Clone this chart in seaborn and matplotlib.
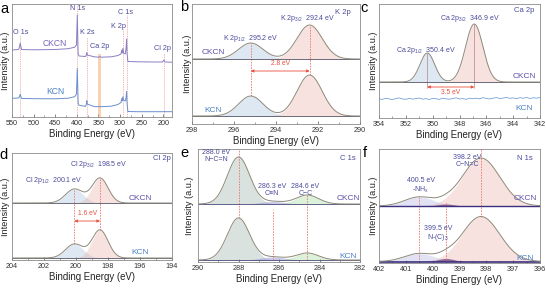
import numpy as np
import pandas as pd
import matplotlib
matplotlib.use("Agg")
import matplotlib.pyplot as plt
from matplotlib.ticker import AutoMinorLocator, FixedLocator
import seaborn as sns

# ---------------- data ----------------
# (a) survey spectra
survey_energy = [550, 540, 534, 531, 528, 500, 450, 420, 405, 401, 399, 397, 395, 380, 378, 377, 376,
                 360, 350, 347, 345, 320, 305, 298, 296, 295, 293.5, 292, 288, 286, 285, 284, 282,
                 260, 220, 202, 199, 196, 180]
survey_ckcn = [67, 67.3, 67.8, 74, 67.5, 67.2, 67.5, 68.3, 69.8, 72, 102, 63, 61, 60.5, 62, 64.3, 62,
               60.2, 59.8, 60.5, 59.8, 60.2, 61.5, 63, 67, 64, 68.7, 64, 63, 70, 78, 64, 55.5,
               55.2, 55, 55, 57, 55, 54.8]
survey_kcn = [18.7, 18.8, 19.2, 22.7, 18.6, 18.3, 18.2, 18.8, 20.3, 23, 48.7, 14, 11.8, 10.6, 13, 16.3, 13,
              10.4, 10.3, 10.6, 10.3, 10.8, 12.5, 14.5, 18.7, 16, 20.3, 17, 16, 20, 25.3, 14, 5.5,
              5.3, 5.3, 5.3, 5.4, 5.3, 5.3]
survey_labels = ["O 1s", "N 1s", "K 2s", "Ca 2p", "K 2p", "C 1s", "Cl 2p"]
survey_label_energy = [531, 399, 377, 348, 294, 285, 199]

# (b) K 2p
k2p_centers = [295.2, 292.4]
k2p_sigma = [0.58, 0.6]
k2p_ckcn = [16, 34]
k2p_kcn = [20, 41]

# (c) Ca 2p
ca2p_centers = [350.4, 346.9]
ca2p_sigma = [0.55, 0.65]
ca2p_ckcn = [29, 58]
ca_kcn_energy = list(np.arange(354, 341.99, -0.25))
ca_kcn_signal = [19.2, 18.6, 19.8, 19.1, 18.4, 19.5, 20.1, 19.0, 18.7, 19.6, 18.9, 19.4, 20.0, 18.8,
                 19.3, 18.5, 19.7, 19.2, 18.6, 19.9, 19.1, 18.8, 19.5, 20.2, 19.0, 19.4, 18.7, 19.8,
                 19.3, 19.9, 19.1, 20.3, 19.6, 19.0, 19.8, 20.4, 19.5, 19.9, 20.6, 19.7, 20.1, 19.4,
                 20.3, 19.8, 20.5, 19.6, 20.2, 19.9, 20.4]

# (d) Cl 2p
cl2p_centers = [200.1, 198.5]
cl2p_sigma = [0.55, 0.5]
cl2p_ckcn = [14, 25]
cl2p_kcn = [14, 28]

# (e) C 1s
c1s_centers = [288.0, 286.3, 284.6]
c1s_sigma = [0.55, 0.6, 0.55]
c1s_ckcn = [47, 2.5, 9]
c1s_kcn = [42, 3, 7]
c1s_names = ["N\u2212C=N", "C\u2261N", "C\u2212C"]

# (f) N 1s
n1s_centers = [400.5, 399.5, 398.2]
n1s_sigma = [0.55, 0.3, 0.7]
n1s_ckcn = [9, 2, 48]
n1s_kcn = [8, 3, 45]

# ---------------- style ----------------
sns.set_theme(style="white")
plt.rcParams["font.family"] = ["Liberation Sans", "DejaVu Sans"]
plt.rcParams["mathtext.fontset"] = "custom"
plt.rcParams["mathtext.rm"] = "Liberation Sans"

W, H = 546, 289
fig = plt.figure(figsize=(W / 100, H / 100), dpi=100)

LBL = "#4b4b9b"
C_CK = "#5e50a6"
C_K = "#4a80c4"
RED = "#e8503c"
DASH = "#e87a72"
ENV = "#8d8a7a"
BASE = "#555566"


def make_ax(l, t, r, b):
    return fig.add_axes([l / W, 1 - b / H, (r - l) / W, (b - t) / H])


def style_ax(ax, xlim, ylim, ticks, px_left, ylab_right):
    ax.set_xlim(*xlim)
    ax.set_ylim(*ylim)
    ax.xaxis.set_major_locator(FixedLocator(ticks))
    ax.xaxis.set_minor_locator(AutoMinorLocator(2))
    ax.set_yticks([])
    ax.tick_params(axis="x", which="major", direction="in", length=2.5, width=0.5,
                   labelsize=5.2, pad=2.5, colors="#555555", labelcolor="#333333", bottom=True)
    ax.tick_params(axis="x", which="minor", direction="in", length=1.5, width=0.4,
                   colors="#555555", bottom=True)
    ax.set_xticklabels([str(int(t)) for t in ticks])
    for s in ax.spines.values():
        s.set_color("#8a8a8a")
        s.set_linewidth(0.6)
    ax.set_xlabel("Binding Energy (eV)", fontsize=6.9, labelpad=1, color="#222222")
    ax.set_ylabel("Intensity (a.u.)", fontsize=6.6, color="#222222")
    width = ax.get_position().width * W
    ax.yaxis.set_label_coords((ylab_right - px_left) / width, 0.5)


def gauss(x, c, s, h):
    return h * np.exp(-0.5 * ((x - c) / s) ** 2)


def draw_fit(ax, x, base, centers, sigmas, heights, fills, alphas, env=ENV, base_color=BASE, base_lw=0.6):
    total = np.zeros_like(x)
    for c, s, h, fc, a in zip(centers, sigmas, heights, fills, alphas):
        g = gauss(x, c, s, h)
        ax.fill_between(x, base, base + g, color=fc, alpha=a, lw=0)
        total += g
    sns.lineplot(x=[x[0], x[-1]], y=[base, base], ax=ax, color=base_color, lw=base_lw,
                 estimator=None, sort=False)
    sns.lineplot(x=x, y=base + total, ax=ax, color=env, lw=0.7, estimator=None, sort=False)
    return total


def vline(ax, x, y0, y1, color=DASH, lw=0.6, ls=(0, (2, 1.3))):
    ax.plot([x, x], [y0, y1], color=color, lw=lw, ls=ls, zorder=1)


def arrow(ax, x0, x1, y):
    ax.annotate("", xy=(x1, y), xytext=(x0, y),
                arrowprops=dict(arrowstyle="<|-|>", color=RED, lw=0.6, mutation_scale=4,
                                shrinkA=0, shrinkB=0))


def letter(s, x, y):
    fig.text(x / W, 1 - y / H, s, fontsize=10.5, ha="center", va="center", color="black")


BLUE_F, PINK_F = "#9ab8dc", "#eaa59c"

# ---------------- (a) survey ----------------
ax = make_ax(12, 4, 172, 117)
ax.axvspan(351.5, 344.5, ymin=0.0, ymax=0.56, color="#f5a66c", alpha=0.5, lw=0)
tops = [82, 113, 80, 60, 88, 102, 64]
for e, tp in zip(survey_label_energy, tops):
    if e != 348:
        vline(ax, e, 0, tp, color="#eaa098", lw=0.5)
sns.lineplot(x=survey_energy, y=survey_ckcn, ax=ax, color="#8a7fc4", lw=0.7, estimator=None, sort=False)
sns.lineplot(x=survey_energy, y=survey_kcn, ax=ax, color="#6b8fcf", lw=0.7, estimator=None, sort=False)
lab_pos = [(531, 85), (399, 108), (375.5, 84), (348, 71), (304, 91), (287.5, 105), (202, 68)]
for t, (x, y) in zip(survey_labels, lab_pos):
    ax.text(x, y, t, fontsize=5.2, color=LBL, ha="center", va="center")
ax.text(452, 74, "CKCN", fontsize=6.2, color="#7a68b8", ha="center", va="center")
ax.text(450, 25, "KCN", fontsize=6.2, color=C_K, ha="center", va="center")
style_ax(ax, (550, 180), (0, 113), [550, 500, 450, 400, 350, 300, 250, 200], 12, 9.5)

# ---------------- (b) K 2p ----------------
ax = make_ax(192, 4, 360, 124)
x = np.linspace(298, 290, 500)
fills = [BLUE_F, PINK_F]
draw_fit(ax, x, 65, k2p_centers, k2p_sigma, k2p_ckcn, fills, [0.32, 0.32])
draw_fit(ax, x, 8, k2p_centers, k2p_sigma, k2p_kcn, fills, [0.32, 0.32])
vline(ax, 295.2, 28, 81)
vline(ax, 292.4, 49, 99)
arrow(ax, 295.2, 292.4, 53)
ax.text(293.8, 57, "2.8 eV", fontsize=4.8, color=RED, ha="center", va="bottom")
ax.text(295.2, 86, "K 2p$\\mathregular{_{1/2}}$  295.2 eV", fontsize=5, color=LBL, ha="center", va="center")
ax.text(292.5, 106, "K 2p$\\mathregular{_{3/2}}$  292.4 eV", fontsize=5, color=LBL, ha="center", va="center")
ax.text(290.8, 112, "K 2p", fontsize=5.5, color=LBL, ha="center", va="center")
ax.text(297.0, 71, "CKCN", fontsize=6, color=C_CK, ha="center", va="center")
ax.text(297.0, 14, "KCN", fontsize=6, color=C_K, ha="center", va="center")
style_ax(ax, (298, 290), (0, 120), [298, 296, 294, 292, 290], 192, 192)

# ---------------- (c) Ca 2p ----------------
ax = make_ax(379, 4, 540, 118)
x = np.linspace(354, 342, 500)
draw_fit(ax, x, 36, ca2p_centers, ca2p_sigma, ca2p_ckcn, fills, [0.32, 0.32])
sns.lineplot(x=ca_kcn_energy, y=ca_kcn_signal, ax=ax, color="#5a92cf", lw=0.5, estimator=None, sort=False)
vline(ax, 350.4, 30, 65, color="#a86a6a", ls="-", lw=0.4)
vline(ax, 346.9, 30, 94, color="#a86a6a", ls="-", lw=0.4)
arrow(ax, 350.4, 346.9, 31)
ax.text(348.65, 29, "3.5 eV", fontsize=4.8, color=RED, ha="center", va="top")
ax.text(350.5, 68, "Ca 2p$\\mathregular{_{1/2}}$  350.4 eV", fontsize=5, color=LBL, ha="center", va="center")
ax.text(347.2, 99, "Ca 2p$\\mathregular{_{3/2}}$  346.9 eV", fontsize=5, color=LBL, ha="center", va="center")
ax.text(343.2, 108, "Ca 2p", fontsize=5.5, color=LBL, ha="center", va="center")
ax.text(343.2, 41, "CKCN", fontsize=6, color=C_CK, ha="center", va="center")
ax.text(343.2, 10, "KCN", fontsize=6, color=C_K, ha="center", va="center")
style_ax(ax, (354, 342), (0, 114), [354, 352, 350, 348, 346, 344, 342], 379, 377.5)

# ---------------- (d) Cl 2p ----------------
ax = make_ax(12, 153, 172, 260)
x = np.linspace(204, 194, 500)
draw_fit(ax, x, 57, cl2p_centers, cl2p_sigma, cl2p_ckcn, fills, [0.32, 0.32])
draw_fit(ax, x, 2, cl2p_centers, cl2p_sigma, cl2p_kcn, fills, [0.32, 0.32])
vline(ax, 200.1, 16, 71)
vline(ax, 198.5, 30, 82)
arrow(ax, 200.1, 198.5, 39)
ax.text(199.3, 43, "1.6 eV", fontsize=4.8, color=RED, ha="center", va="bottom")
ax.text(201.4, 80, "Cl 2p$\\mathregular{_{1/2}}$  200.1 eV", fontsize=5, color=LBL, ha="center", va="center")
ax.text(198.6, 95, "Cl 2p$\\mathregular{_{3/2}}$  198.5 eV", fontsize=5, color=LBL, ha="center", va="center")
ax.text(194.6, 102, "Cl 2p", fontsize=5.5, color=LBL, ha="center", va="center")
ax.text(196.0, 62, "CKCN", fontsize=6, color=C_CK, ha="center", va="center")
ax.text(196.0, 8, "KCN", fontsize=6, color=C_K, ha="center", va="center")
style_ax(ax, (204, 194), (0, 107), [204, 202, 200, 198, 196, 194], 12, 9.5)

# ---------------- (e) C 1s ----------------
ax = make_ax(198, 149, 360, 262)
x = np.linspace(290, 282, 500)
efills = ["#aebfbb", "#9a96d8", "#a8dca0"]
ealph = [0.45, 0.5, 0.4]
draw_fit(ax, x, 58, c1s_centers, c1s_sigma, c1s_ckcn, efills, ealph, base_color="#4a4a78")
draw_fit(ax, x, 2, c1s_centers, c1s_sigma, c1s_kcn, efills, ealph, base_color="#4a4a78")
vline(ax, 288.0, 44, 113)
vline(ax, 286.3, 2, 52)
vline(ax, 284.6, 2, 67)
for c, nm, (tx, ty) in zip(c1s_centers, c1s_names, [(289.1, 106), (286.35, 72), (284.7, 72)]):
    ax.text(tx, ty, f"{c:.1f} eV\n{nm}", fontsize=5, color=LBL, ha="center", va="center",
            linespacing=1.1)
ax.text(282.6, 104, "C 1s", fontsize=5.5, color=LBL, ha="center", va="center")
ax.text(282.6, 63, "CKCN", fontsize=6, color=C_CK, ha="center", va="center")
ax.text(282.6, 5, "KCN", fontsize=6, color=C_K, ha="center", va="center")
style_ax(ax, (290, 282), (0, 113), [290, 288, 286, 284, 282], 198, 194)

# ---------------- (f) N 1s ----------------
ax = make_ax(379, 149, 540, 263)
x = np.linspace(402, 396, 500)
ffills = ["#b4bae6", "#4a2d85", PINK_F]
falph = [0.4, 0.85, 0.32]
draw_fit(ax, x, 57, n1s_centers, n1s_sigma, n1s_ckcn, ffills, falph,
         base_color="#3d2f80", base_lw=1.0)
draw_fit(ax, x, 1.5, n1s_centers, n1s_sigma, n1s_kcn, ffills, falph,
         base_color="#3d2f80", base_lw=1.2)
vline(ax, 398.2, 46, 114)
vline(ax, 400.5, 1, 66)
vline(ax, 399.5, 1, 61)
ax.text(398.7, 102, "398.2 eV\nC\u2212N=C", fontsize=5, color=LBL, ha="center", va="center", linespacing=1.1)
ax.text(400.45, 77, "400.5 eV\n-NH$\\mathregular{_x}$", fontsize=5, color=LBL, ha="center", va="center", linespacing=1.1)
ax.text(399.8, 29, "399.5 eV\nN-(C)$\\mathregular{_3}$", fontsize=5, color=LBL, ha="center", va="center", linespacing=1.1)
ax.text(396.55, 105, "N 1s", fontsize=5.5, color=LBL, ha="center", va="center")
ax.text(396.55, 64, "CKCN", fontsize=6, color=C_CK, ha="center", va="center")
ax.text(396.55, 5, "KCN", fontsize=6, color=C_K, ha="center", va="center")
style_ax(ax, (402, 396), (0, 114), [402, 401, 400, 399, 398, 397, 396], 379, 377.5)

letter("a", 4, 9)
letter("b", 184, 7)
letter("c", 364, 8)
letter("d", 4, 155)
letter("e", 184, 153)
letter("f", 365, 153)

fig.savefig("out.png", dpi=100)
